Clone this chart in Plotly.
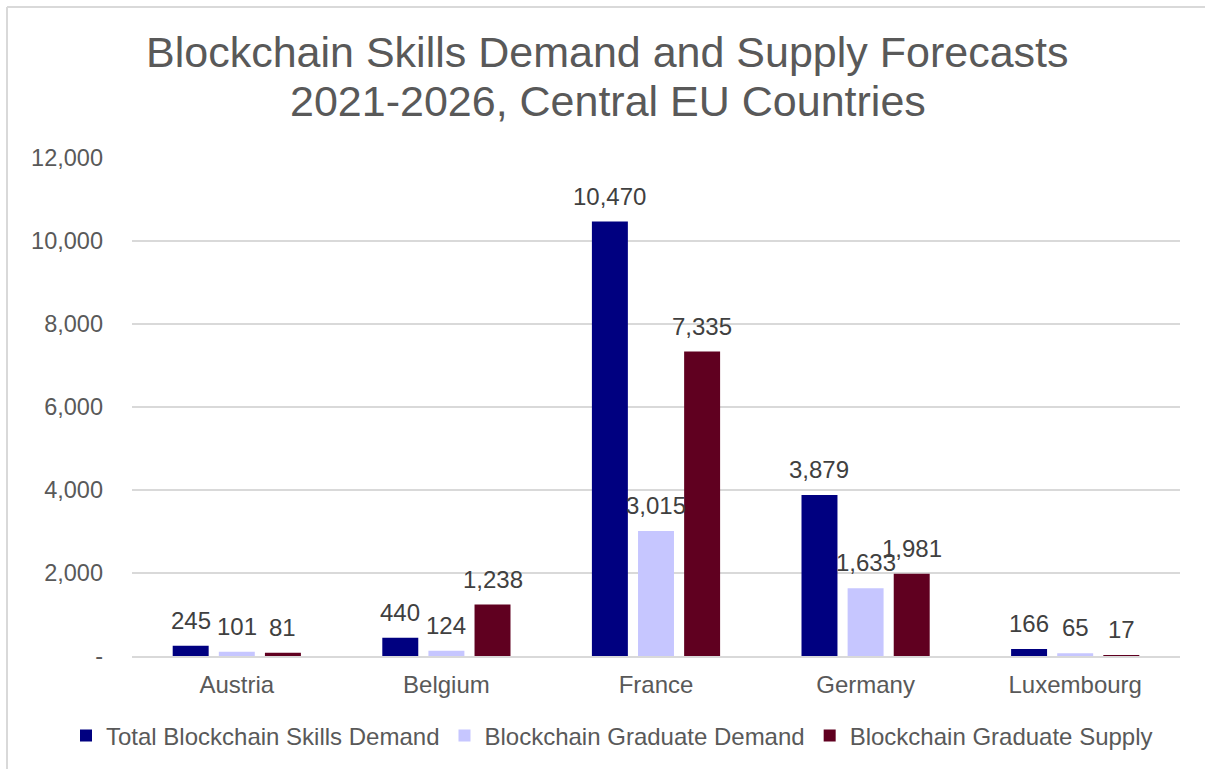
import plotly.graph_objects as go

countries = ["Austria", "Belgium", "France", "Germany", "Luxembourg"]
total_demand = [245, 440, 10470, 3879, 166]
graduate_demand = [101, 124, 3015, 1633, 65]
graduate_supply = [81, 1238, 7335, 1981, 17]

series_names = [
    "Total Blockchain Skills Demand",
    "Blockchain Graduate Demand",
    "Blockchain Graduate Supply",
]
series_colors = ["#000080", "#C6C6FF", "#600020"]

y_ticks = [0, 2000, 4000, 6000, 8000, 10000, 12000]
y_tick_text = ["-", "2,000", "4,000", "6,000", "8,000", "10,000", "12,000"]

title_lines = [
    "Blockchain Skills Demand and Supply Forecasts",
    "2021-2026, Central EU Countries",
]

FONT = "Liberation Sans, Arial, sans-serif"
GREY = "#595959"
LABEL = "#404040"

W, H = 1205, 769
ML, MR, MT, MB = 132, 25, 158, 113
PW, PH = W - ML - MR, H - MT - MB
BARGAP = 0.34
BARGROUPGAP = 0.22


def px_x(x):
    return (x - ML) / PW


def px_y(y):
    return (H - MB - y) / PH


all_series = [total_demand, graduate_demand, graduate_supply]

fig = go.Figure()
for name, vals, color in zip(series_names, all_series, series_colors):
    fig.add_trace(go.Bar(
        name=name,
        x=countries,
        y=vals,
        marker=dict(color=color, line=dict(width=0)),
        hovertemplate="%{x}: %{y:,}<extra>" + name + "</extra>",
    ))

# value labels above each bar, shifted sideways to their slot in the group
slot_px = PW / len(countries) * (1 - BARGAP) / len(all_series)
for i, vals in enumerate(all_series):
    shift = (i - (len(all_series) - 1) / 2) * slot_px
    for c, v in zip(countries, vals):
        fig.add_annotation(
            x=c, y=v, xref="x", yref="y", text=f"{v:,}",
            showarrow=False, xanchor="center", yanchor="bottom",
            xshift=shift, yshift=10,
            font=dict(family=FONT, size=24, color=LABEL),
        )

# chart frame (top and left edges)
frame = dict(type="line", xref="paper", yref="paper",
             line=dict(color="#D9D9D9", width=2), layer="below")
fig.add_shape(x0=px_x(7), x1=px_x(W + 5), y0=px_y(7), y1=px_y(7), **frame)
fig.add_shape(x0=px_x(7), x1=px_x(7), y0=px_y(7), y1=px_y(H + 5), **frame)

for line, ypos in zip(title_lines, [52, 101]):
    fig.add_annotation(
        text=line, xref="paper", yref="paper",
        x=px_x(607.5), y=px_y(ypos), xanchor="center", yanchor="middle",
        showarrow=False, font=dict(family=FONT, size=43, color=GREY),
    )

fig.update_layout(
    width=W, height=H,
    margin=dict(l=ML, r=MR, t=MT, b=MB, autoexpand=False),
    paper_bgcolor="white", plot_bgcolor="white",
    barmode="group", bargap=BARGAP, bargroupgap=BARGROUPGAP,
    font=dict(family=FONT, size=24, color=GREY),
    showlegend=True,
    legend=dict(
        orientation="h", x=px_x(66), xanchor="left",
        y=px_y(736), yanchor="middle",
        font=dict(family=FONT, size=24, color=GREY),
        itemclick=False, itemdoubleclick=False,
        traceorder="normal",
    ),
    xaxis=dict(
        showgrid=False, showline=True, linecolor="#D9D9D9", linewidth=2,
        ticks="", tickfont=dict(family=FONT, size=24, color=GREY),
        ticklabelstandoff=6,
    ),
    yaxis=dict(
        range=[0, 12000], tickvals=y_ticks, ticktext=y_tick_text,
        showgrid=True, gridcolor="#D9D9D9", gridwidth=2,
        zeroline=False, showline=False, ticks="",
        tickfont=dict(family=FONT, size=23.5, color=GREY),
        ticklabelstandoff=28,
    ),
)

fig.write_html("out.html")
